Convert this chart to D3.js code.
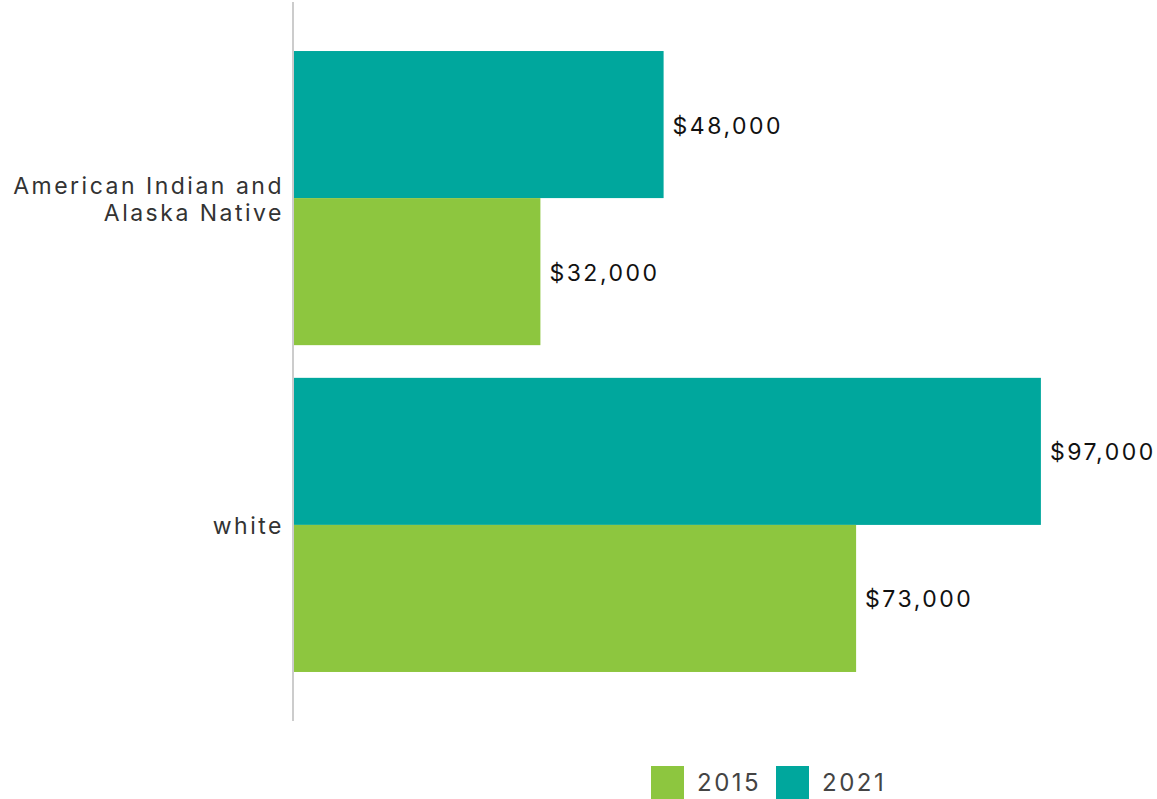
<!DOCTYPE html>
<html>
<head>
<meta charset="utf-8">
<script src="https://cdn.jsdelivr.net/npm/d3@7"></script>
<style>
  html, body { margin: 0; padding: 0; background: #fff; }
  svg { display: block; font-family: "Inter", "Lato", sans-serif; }
</style>
</head>
<body>
<svg id="chart" width="1157" height="799"></svg>
<script>
// Median household income by group, 2015 vs 2021
const categories = ["American Indian and\nAlaska Native", "white"];
const seriesNames = ["2021", "2015"];
const values2021 = [48000, 97000];
const values2015 = [32000, 73000];
const legendOrder = ["2015", "2021"];

const colors = { "2015": "#8dc63f", "2021": "#00a79d" };

const svg = d3.select("#chart");
const axisX = 293;

const x = d3.scaleLinear().domain([0, 100000]).range([axisX + 1, axisX + 1 + 770]);

const y = d3.scaleBand()
  .domain(categories)
  .range([2, 721])
  .paddingInner(0.1)
  .paddingOuter(0.15);

const ySub = d3.scaleBand()
  .domain(seriesNames)
  .range([0, y.bandwidth()]);

const rows = categories.map((c, i) => ({
  cat: c,
  bars: [
    { series: "2021", value: values2021[i] },
    { series: "2015", value: values2015[i] }
  ]
}));

const fmt = v => "$" + d3.format(",")(v);

const groups = svg.selectAll("g.cat")
  .data(rows)
  .join("g")
  .attr("class", "cat")
  .attr("transform", d => `translate(0,${y(d.cat)})`);

groups.selectAll("rect")
  .data(d => d.bars)
  .join("rect")
  .attr("x", x(0))
  .attr("y", d => ySub(d.series))
  .attr("width", d => x(d.value) - x(0))
  .attr("height", ySub.bandwidth())
  .attr("fill", d => colors[d.series]);

groups.selectAll("text.val")
  .data(d => d.bars)
  .join("text")
  .attr("class", "val")
  .attr("x", d => x(d.value) + 9)
  .attr("y", d => ySub(d.series) + ySub.bandwidth() / 2 + 1)
  .attr("dy", "0.35em")
  .attr("font-size", 23)
  .attr("letter-spacing", 2.5)
  .attr("fill", "#111")
  .text(d => fmt(d.value));

// Category labels (left)
groups.each(function(d) {
  const lines = d.cat.split("\n");
  const t = d3.select(this).append("text")
    .attr("text-anchor", "end")
    .attr("font-size", 23)
    .attr("letter-spacing", 2.5)
    .attr("fill", "#333");
  const lh = 27;
  const cy = y.bandwidth() / 2 + 1;
  lines.forEach((ln, i) => {
    t.append("tspan")
      .attr("x", 284)
      .attr("y", cy + (i - (lines.length - 1) / 2) * lh)
      .attr("dy", "0.35em")
      .text(ln);
  });
});

// Vertical axis line
svg.append("line")
  .attr("x1", axisX).attr("x2", axisX)
  .attr("y1", 2).attr("y2", 721)
  .attr("stroke", "#cccccc")
  .attr("stroke-width", 2);

// Legend
const legendPos = [651, 776];
const legend = svg.selectAll("g.legend")
  .data(legendOrder)
  .join("g")
  .attr("class", "legend")
  .attr("transform", (d, i) => `translate(${legendPos[i]},766)`);

legend.append("rect")
  .attr("width", 33).attr("height", 33)
  .attr("fill", d => colors[d]);

legend.append("text")
  .attr("x", 46)
  .attr("y", 17)
  .attr("dy", "0.35em")
  .attr("font-size", 24)
  .attr("letter-spacing", 2.5)
  .attr("fill", "#444")
  .text(d => d);
</script>
</body>
</html>
